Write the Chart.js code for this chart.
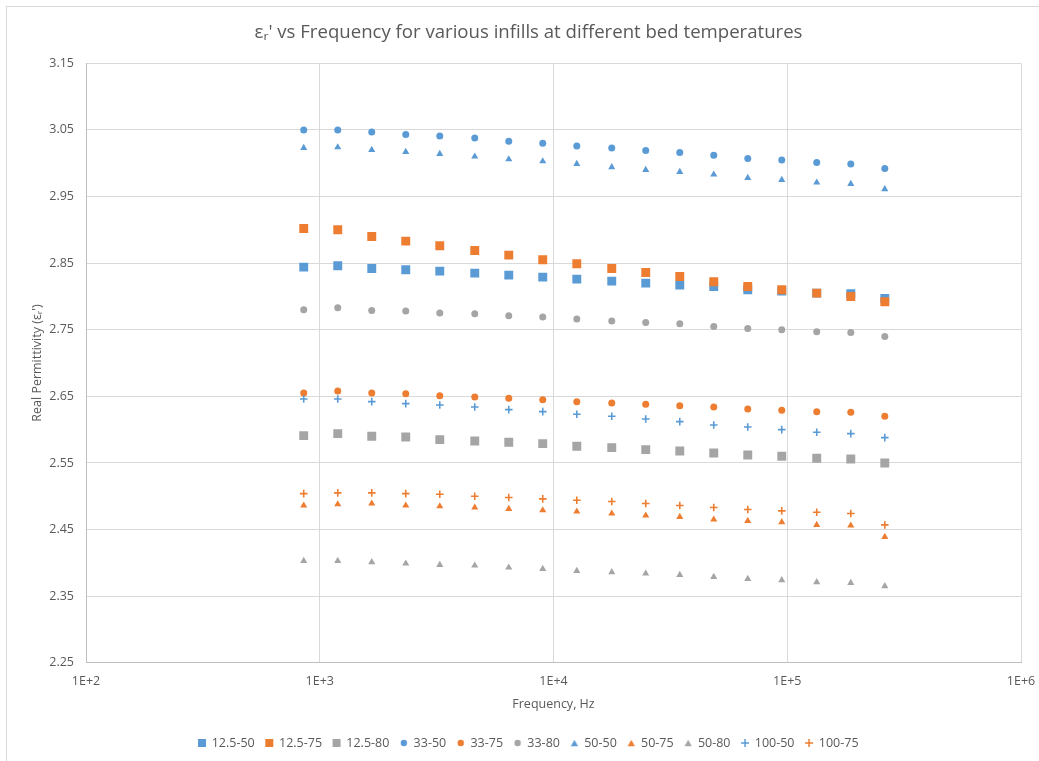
<!DOCTYPE html>
<html>
<head>
<meta charset="utf-8">
<script src="https://cdn.jsdelivr.net/npm/chart.js@4.4.1/dist/chart.umd.min.js"></script>
<style>
  html, body { margin: 0; padding: 0; background: #fff; }
  #wrap { width: 1039px; height: 761px; }
</style>
</head>
<body>
<div id="wrap"><canvas id="chart" width="1039" height="761"></canvas></div>
<script>
// frequencies (Hz)
var freqHz = [854, 1194, 1669, 2333, 3262, 4604, 6436, 8995, 12580, 17750, 24810, 34690, 48480, 67770, 94740, 133700, 187000, 261400];

var s125_50 = [2.844, 2.846, 2.842, 2.840, 2.838, 2.835, 2.832, 2.829, 2.826, 2.823, 2.820, 2.817, 2.815, 2.810, 2.808, 2.805, 2.804, 2.797];
var s125_75 = [2.902, 2.900, 2.890, 2.883, 2.876, 2.869, 2.862, 2.855, 2.849, 2.842, 2.836, 2.830, 2.822, 2.815, 2.810, 2.805, 2.800, 2.792];
var s125_80 = [2.591, 2.594, 2.590, 2.589, 2.585, 2.583, 2.581, 2.579, 2.575, 2.573, 2.570, 2.568, 2.565, 2.562, 2.560, 2.557, 2.556, 2.550];
var s33_50 = [3.050, 3.050, 3.047, 3.043, 3.041, 3.038, 3.033, 3.030, 3.026, 3.023, 3.019, 3.016, 3.012, 3.007, 3.005, 3.001, 2.999, 2.992];
var s33_75 = [2.655, 2.658, 2.655, 2.654, 2.651, 2.649, 2.647, 2.645, 2.642, 2.640, 2.638, 2.636, 2.634, 2.631, 2.629, 2.627, 2.626, 2.620];
var s33_80 = [2.780, 2.783, 2.779, 2.778, 2.775, 2.774, 2.771, 2.769, 2.766, 2.763, 2.761, 2.759, 2.755, 2.752, 2.750, 2.747, 2.746, 2.740];
var s50_50 = [3.023, 3.024, 3.020, 3.017, 3.014, 3.010, 3.006, 3.003, 2.999, 2.994, 2.990, 2.987, 2.983, 2.978, 2.975, 2.971, 2.969, 2.961];
var s50_75 = [2.486, 2.488, 2.489, 2.486, 2.485, 2.483, 2.481, 2.479, 2.477, 2.474, 2.471, 2.469, 2.465, 2.463, 2.461, 2.457, 2.456, 2.439];
var s50_80 = [2.403, 2.403, 2.401, 2.399, 2.397, 2.396, 2.393, 2.391, 2.388, 2.386, 2.384, 2.382, 2.379, 2.376, 2.374, 2.371, 2.370, 2.365];
var s100_50 = [2.646, 2.646, 2.642, 2.639, 2.637, 2.634, 2.630, 2.627, 2.623, 2.620, 2.616, 2.612, 2.607, 2.604, 2.600, 2.596, 2.594, 2.588];
var s100_75 = [2.504, 2.505, 2.505, 2.504, 2.503, 2.500, 2.498, 2.496, 2.494, 2.492, 2.489, 2.486, 2.483, 2.480, 2.478, 2.476, 2.474, 2.457];

var seriesNames = ['12.5-50', '12.5-75', '12.5-80', '33-50', '33-75', '33-80', '50-50', '50-75', '50-80', '100-50', '100-75'];
var seriesValues = [s125_50, s125_75, s125_80, s33_50, s33_75, s33_80, s50_50, s50_75, s50_80, s100_50, s100_75];

var xTicks = [1e2, 1e3, 1e4, 1e5, 1e6];
var xTickLabels = ['1E+2', '1E+3', '1E+4', '1E+5', '1E+6'];
var yTicks = [2.25, 2.35, 2.45, 2.55, 2.65, 2.75, 2.85, 2.95, 3.05, 3.15];

var BLUE = '#5b9bd5', ORANGE = '#ed7d31', GREY = '#a5a5a5';
var colors = [BLUE, ORANGE, GREY, BLUE, ORANGE, GREY, BLUE, ORANGE, GREY, BLUE, ORANGE];
var shapes = ['rect', 'rect', 'rect', 'circle', 'circle', 'circle', 'triangle', 'triangle', 'triangle', 'cross', 'cross'];
var sizes = { rect: 6.3, circle: 3.5, triangle: 4.1, cross: 3.8 };

var TXT = '#595959';
var FONT = '"Open Sans", "Noto Sans", sans-serif';

var datasets = seriesNames.map(function (name, i) {
  var pts = [];
  for (var k = 0; k < freqHz.length; k++) {
    pts.push({ x: freqHz[k], y: seriesValues[i][k] });
  }
  var isCross = shapes[i] == 'cross';
  return {
    label: name,
    data: pts,
    showLine: false,
    pointStyle: shapes[i],
    pointRadius: sizes[shapes[i]],
    pointHoverRadius: sizes[shapes[i]],
    backgroundColor: colors[i],
    borderColor: colors[i],
    borderWidth: isCross ? 1.6 : 0,
    pointBorderWidth: isCross ? 1.6 : 0,
    order: -i   // later series drawn on top, like the original
  };
});

// small legend icons, the legend's own markers come out too uniform in size
function legendIcon(shape, color) {
  var c = document.createElement('canvas');
  c.width = 10; c.height = 10;
  var g = c.getContext('2d');
  g.fillStyle = color; g.strokeStyle = color;
  if (shape == 'rect') {
    g.fillRect(1, 1, 8, 8);
  } else if (shape == 'circle') {
    g.beginPath(); g.arc(5, 5, 3.2, 0, Math.PI * 2); g.fill();
  } else if (shape == 'triangle') {
    g.beginPath(); g.moveTo(5, 1.8); g.lineTo(8.6, 8.2); g.lineTo(1.4, 8.2); g.closePath(); g.fill();
  } else {
    g.lineWidth = 1.5;
    g.beginPath(); g.moveTo(5, 1); g.lineTo(5, 9); g.moveTo(1, 5); g.lineTo(9, 5); g.stroke();
  }
  return c;
}

// light frame round the chart area, as in the source picture
var framePlugin = {
  id: 'frame',
  beforeDraw: function (chart) {
    var ctx = chart.ctx;
    ctx.save();
    ctx.fillStyle = '#fff';
    ctx.fillRect(0, 0, chart.width, chart.height);
    ctx.strokeStyle = '#d9d9d9';
    ctx.lineWidth = 1;
    ctx.strokeRect(6.5, 6.5, 1100, 800);
    ctx.restore();
  }
};

new Chart(document.getElementById('chart').getContext('2d'), {
  type: 'scatter',
  data: { datasets: datasets },
  plugins: [framePlugin],
  options: {
    responsive: false,
    animation: false,
    devicePixelRatio: 1,
    layout: { padding: { left: 36, right: 18, top: 0, bottom: 1.75 } },
    plugins: {
      tooltip: { enabled: false },
      title: {
        display: true,
        text: "\u03b5\u1d63' vs Frequency for various infills at different bed temperatures",
        color: TXT,
        font: { family: FONT, size: 18.6, weight: 'normal' },
        padding: { top: 21.8, bottom: 19.2 }
      },
      legend: {
        position: 'bottom',
        labels: {
          usePointStyle: true,
          boxWidth: 7,
          boxHeight: 7,
          padding: 11,
          color: TXT,
          font: { family: FONT, size: 12.5 },
          generateLabels: function (chart) {
            var items = Chart.defaults.plugins.legend.labels.generateLabels(chart);
            items.forEach(function (it) {
              it.pointStyle = legendIcon(shapes[it.datasetIndex], colors[it.datasetIndex]);
            });
            return items;
          },
          sort: function (a, b) { return a.datasetIndex - b.datasetIndex; }
        }
      }
    },
    scales: {
      x: {
        type: 'logarithmic',
        min: 1e2,
        max: 1e6,
        afterBuildTicks: function (scale) {
          scale.ticks = xTicks.map(function (v) { return { value: v }; });
        },
        afterFit: function (scale) {
          scale.height = 63;
          scale.paddingLeft = 0;
          scale.paddingRight = 0;
        },
        ticks: {
          color: TXT,
          padding: 11,
          font: { family: FONT, size: 12.5 },
          callback: function (value, index) { return xTickLabels[index]; }
        },
        grid: { color: '#d9d9d9', drawTicks: false },
        border: { color: '#bfbfbf' },
        title: {
          display: true,
          text: 'Frequency, Hz',
          color: TXT,
          font: { family: FONT, size: 12.5 },
          padding: { top: 0, bottom: 14 }
        }
      },
      y: {
        type: 'linear',
        min: 2.25,
        max: 3.15,
        afterBuildTicks: function (scale) {
          scale.ticks = yTicks.map(function (v) { return { value: v }; });
        },
        afterFit: function (scale) { scale.width = 50; },
        ticks: {
          color: TXT,
          padding: 12,
          font: { family: FONT, size: 12.5 },
          callback: function (value) { return value.toFixed(2); }
        },
        grid: { color: '#d9d9d9', drawTicks: false },
        border: { color: '#bfbfbf' },
        title: {
          display: true,
          text: "Real Permittivity (\u03b5\u1d63')",
          color: TXT,
          font: { family: FONT, size: 12.5 },
          padding: { top: -6.5, bottom: 0 }
        }
      }
    }
  }
});
</script>
</body>
</html>
